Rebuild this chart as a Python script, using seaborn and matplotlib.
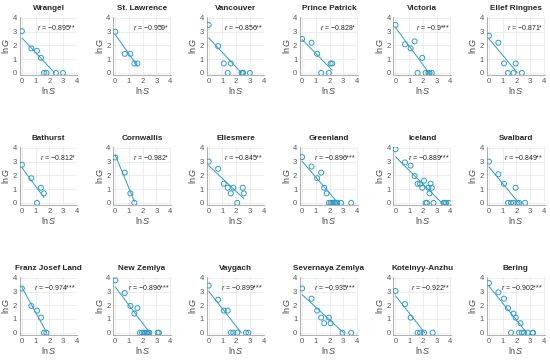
import matplotlib
matplotlib.use("Agg")
import matplotlib.pyplot as plt
import numpy as np
import pandas as pd
import seaborn as sns

sns.set_theme(style="whitegrid")
plt.rcParams['font.family'] = ['Liberation Sans', 'DejaVu Sans']
plt.rcParams['mathtext.fontset'] = 'custom'
plt.rcParams['mathtext.rm'] = 'Liberation Sans'
plt.rcParams['mathtext.it'] = 'Liberation Sans:italic'

# island names, correlation labels, and (lnS, lnG) points
islands = ["Wrangel", "St. Lawrence", "Vancouver", "Prince Patrick", "Victoria", "Ellef Ringnes",
           "Bathurst", "Cornwallis", "Ellesmere", "Greenland", "Iceland", "Svalbard",
           "Franz Josef Land", "New Zemlya", "Vaygach", "Severnaya Zemlya", "Kotelnyy-Anzhu", "Bering"]
r_values = ["-0.895", "-0.959", "-0.856", "-0.828", "-0.9", "-0.871",
            "-0.812", "-0.982", "-0.845", "-0.896", "-0.889", "-0.849",
            "-0.974", "-0.896", "-0.899", "-0.935", "-0.922", "-0.902"]
stars = ["**", "*", "**", "*", "***", "*",
         "*", "*", "**", "***", "***", "**",
         "***", "***", "***", "***", "**", "***"]

ln_s = [
    [0, 0.69, 1.1, 1.39, 1.61, 1.79, 2.48, 3.0],
    [0, 0.69, 1.1, 1.39, 1.61],
    [0, 0.69, 1.1, 1.39, 1.61, 2.4, 2.48, 2.5, 3.0],
    [0, 0.69, 1.1, 1.39, 1.95, 2.08, 2.2],
    [0, 0.69, 1.1, 1.39, 1.61, 1.95, 2.2, 2.4, 2.48, 2.64],
    [0, 0.69, 1.1, 1.39, 1.79, 1.95, 2.4],
    [0, 0.69, 1.1, 1.39, 1.61],
    [0, 0.69, 1.1, 1.39],
    [0, 0.69, 1.1, 1.39, 1.61, 1.79, 2.08, 2.48, 2.56],
    [0, 0.69, 1.1, 1.39, 1.61, 1.79, 1.95, 2.08, 2.2, 2.3, 2.4, 2.48, 2.56, 2.83, 3.58],
    [0, 0.69, 1.1, 1.39, 1.61, 1.79, 1.95, 2.08, 2.2, 2.3, 2.4, 2.48, 2.56, 2.64, 2.77, 3.5, 3.58, 3.69, 3.91],
    [0, 0.69, 1.1, 1.39, 1.61, 1.79, 1.95, 2.08, 2.2, 2.64],
    [0, 0.69, 1.1, 1.39, 1.61, 1.79],
    [0, 0.69, 1.1, 1.39, 1.61, 1.79, 1.95, 2.08, 2.2, 2.3, 2.4, 2.48, 3.09, 3.18],
    [0, 0.69, 1.1, 1.39, 1.61, 1.79, 2.08, 2.71, 2.89],
    [0, 0.69, 1.1, 1.39, 1.61, 1.95, 2.08, 2.94, 3.58],
    [0, 0.69, 1.1, 1.61, 1.79, 2.08, 2.71],
    [0, 0.69, 1.1, 1.39, 1.61, 1.79, 1.95, 2.2, 2.3, 2.4, 2.56, 2.83, 3.18, 3.22],
]
ln_g = [
    [3.04, 1.79, 1.61, 1.1, 0, 0, 0, 0],
    [3.0, 1.39, 1.39, 0.69, 0.69],
    [3.5, 1.95, 0.69, 0, 0.69, 0, 0, 0, 0],
    [2.48, 2.2, 1.39, 0, 0, 0.69, 0.69],
    [3.5, 2.08, 1.79, 2.3, 0, 1.1, 0, 0, 0, 0],
    [2.71, 2.2, 0.69, 0, 0, 0.69, 0],
    [2.77, 1.79, 0, 1.1, 0.69],
    [3.3, 2.2, 0.69, 0],
    [3.0, 2.48, 1.39, 1.1, 0.69, 1.1, 0, 1.1, 0.69],
    [3.33, 2.64, 1.79, 2.2, 1.1, 0.69, 0, 0, 0, 0, 0, 0, 0, 0, 0],
    [3.9, 2.94, 2.71, 1.95, 1.39, 1.39, 1.1, 1.61, 0, 0, 1.1, 0.69, 1.39, 1.1, 0, 0, 0, 0, 0],
    [3.0, 2.08, 1.39, 0, 0, 0, 1.1, 0, 0, 0],
    [3.22, 1.95, 1.61, 1.1, 0, 0],
    [3.81, 2.89, 1.95, 1.39, 1.79, 0, 0, 0, 0, 0, 0, 0, 0, 0],
    [3.43, 2.4, 1.61, 1.61, 0, 0, 0, 0, 0],
    [3.22, 2.48, 1.61, 1.1, 0.69, 1.1, 0.69, 0, 0],
    [3.04, 2.08, 1.1, 0, 0, 0, 0],
    [3.61, 2.94, 2.48, 1.79, 0, 1.39, 1.1, 0, 0.69, 0, 0, 0, 0, 0],
]

color = "#2e9bc6"
fig, axes = plt.subplots(3, 6, figsize=(5.5, 3.6), dpi=100)
fig.subplots_adjust(left=0.036, right=0.99, top=0.952, bottom=0.07, wspace=0.62, hspace=1.25)

for i, ax in enumerate(axes.flat):
    df = pd.DataFrame({"lnS": ln_s[i], "lnG": ln_g[i]})
    sns.scatterplot(data=df, x="lnS", y="lnG", ax=ax, s=13, marker="o",
                    facecolor="none", edgecolor=color, linewidth=0.7, zorder=3)
    slope, icpt = np.polyfit(df["lnS"], df["lnG"], 1)
    x_end = min(df["lnS"].max(), -icpt / slope)
    xs = np.array([0, x_end])
    ax.plot(xs, icpt + slope * xs, color=color, lw=0.7)

    ax.set_xlim(-0.15, 4.05)
    ax.set_ylim(-0.15, 4.05)
    ax.set_xticks([0, 1, 2, 3, 4])
    ax.set_yticks([0, 1, 2, 3, 4])
    ax.grid(True, color="#e6e6e6", lw=0.5)
    for side in ["top", "right"]:
        ax.spines[side].set_visible(False)
    for side in ["left", "bottom"]:
        ax.spines[side].set_color("#a0a0a0")
        ax.spines[side].set_linewidth(0.6)
    ax.tick_params(labelsize=5.5, colors="#555555", length=0, pad=2)
    ax.set_xlabel(r"ln$\it{S}$", fontsize=6.5, color="#444444", labelpad=0)
    ax.set_ylabel(r"ln$\it{G}$", fontsize=6.5, color="#444444", labelpad=1)
    ax.set_title(islands[i], fontsize=5.9, fontweight="bold", pad=5)
    ax.text(3.95, 3.3, r"$\it{r}$ = " + r_values[i].replace("-", "\u2212") + stars[i],
            fontsize=5, ha="right", va="center", color="#222222")

fig.savefig("out.png", dpi=100)
